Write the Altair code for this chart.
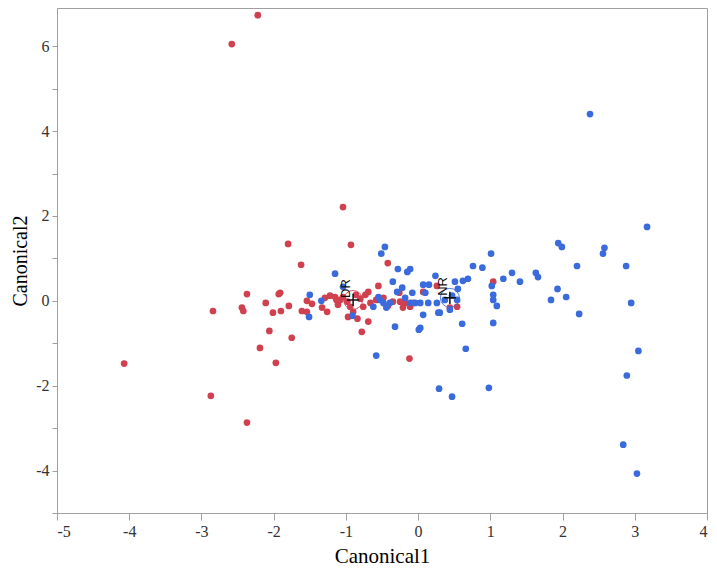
import altair as alt
import pandas as pd

# ---- data ----
red_x = [-2.22, -2.58, -1.04, -1.80, -0.93, -1.62, -0.42, -2.37, -1.93, -2.11,
         -2.84, -2.44, -2.42, -2.01, -1.90, -1.79, -2.06, -1.75, -2.19, -1.97,
         -4.07, -2.87, -2.37, -0.12, -0.78, 1.04, -1.61, -1.54, -1.47, -1.54,
         -1.33, -1.26, -1.29, -1.22, -1.15, -1.08, -1.04, -0.98, -0.94, -1.11,
         -0.97, -0.84, -0.90, -0.69, -0.55, -0.80, -0.73, -0.69, -0.66, -0.76,
         -0.26, -0.35, -0.25, -0.18, -0.11, -0.07, -0.21, 0.07, 0.26, 0.44,
         0.54, -0.48, -0.42, -0.58, -1.91, -1.13, -0.86]
red_y = [6.73, 6.05, 2.21, 1.34, 1.32, 0.85, 0.89, 0.16, 0.16, -0.05,
         -0.24, -0.16, -0.24, -0.28, -0.24, -0.12, -0.71, -0.87, -1.11, -1.46,
         -1.48, -2.24, -2.87, -1.36, -0.73, 0.45, -0.24, 0.00, -0.07, -0.26,
         -0.16, -0.26, 0.07, 0.12, 0.09, 0.02, 0.09, -0.02, -0.14, -0.09,
         -0.38, -0.42, -0.26, -0.49, 0.35, 0.05, 0.14, 0.21, -0.05, -0.14,
         0.19, -0.02, -0.02, -0.05, -0.14, -0.05, -0.16, 0.21, 0.35, -0.16,
         -0.14, 0.07, -0.12, 0.02, 0.19, 0.02, 0.14]

blue_x = [2.38, 3.17, 1.94, 1.99, 2.58, 2.56, 1.01, 0.76, 0.89, 2.20,
          2.88, 1.30, 1.63, 1.66, 1.18, 1.41, 0.51, 0.62, 0.69, 1.02,
          0.55, 1.93, 2.05, 1.84, 1.04, 1.09, 2.95, 2.23, 0.61, 1.04,
          0.44, 0.30, 0.66, 3.05, 2.89, 2.84, 3.03, 0.29, 0.47, 0.98,
          -0.58, 0.01, -0.32, -0.46, -0.51, -1.15, -1.50, -1.51, -1.34, -1.04,
          -0.35, -0.28, -0.15, -0.11, 0.24, -0.22, -0.08, 0.07, 0.15, 0.10,
          0.14, 0.26, 0.07, 0.28, 0.03, -0.11, -0.04, 0.03, -0.53, -0.48,
          -0.39, -0.62, -0.55, -0.29, -0.91, 0.54, 1.04, 0.37, 0.47, -0.18,
          -0.44]
blue_y = [4.40, 1.74, 1.36, 1.27, 1.25, 1.11, 1.11, 0.82, 0.78, 0.82,
          0.82, 0.66, 0.66, 0.56, 0.52, 0.45, 0.45, 0.47, 0.52, 0.35,
          0.28, 0.28, 0.09, 0.02, 0.02, -0.12, -0.05, -0.31, -0.54, -0.52,
          -0.21, -0.28, -1.13, -1.18, -1.76, -3.39, -4.07, -2.07, -2.26, -2.05,
          -1.29, -0.68, -0.61, 1.27, 1.11, 0.64, 0.14, -0.38, 0.00, 0.33,
          0.45, 0.75, 0.68, 0.75, 0.59, 0.31, 0.19, 0.38, 0.38, 0.19,
          -0.05, -0.05, -0.33, -0.28, -0.64, -0.05, -0.05, -0.05, 0.02, -0.05,
          -0.05, -0.14, 0.09, 0.21, -0.35, 0.02, 0.14, 0.02, 0.12, 0.07,
          -0.16]

groups = ["DR", "NR"]
centroid_x = [-0.90, 0.44]
centroid_y = [0.02, 0.07]
group_colors = ["#D1404F", "#3A6BDC"]

x_ticks = list(range(-5, 5))
y_ticks = list(range(-5, 7))

pts = pd.DataFrame({
    "Canonical1": red_x + blue_x,
    "Canonical2": red_y + blue_y,
    "Group": ["DR"] * len(red_x) + ["NR"] * len(blue_x),
})
cen = pd.DataFrame({"Canonical1": centroid_x, "Canonical2": centroid_y, "Group": groups})

FONT = "Liberation Serif"
AX_COLOR = "#A0A0A0"

xscale = alt.Scale(domain=[-5, 4], nice=False, zero=False)
yscale = alt.Scale(domain=[-5, 6.9], nice=False, zero=False)
color = alt.Color("Group:N", scale=alt.Scale(domain=groups, range=group_colors), legend=None)

xaxis = alt.Axis(values=x_ticks, title="Canonical1", grid=False,
                 labelExpr="'' + datum.value", labelFont=FONT, labelFontSize=16,
                 labelColor="#333333", titleFont=FONT, titleFontSize=21,
                 titleFontWeight="normal", titleColor="#000000", titlePadding=6,
                 domainColor=AX_COLOR, tickColor=AX_COLOR, tickSize=7, labelPadding=3)
yaxis = alt.Axis(values=y_ticks, title="Canonical2", grid=False,
                 labelExpr="datum.value % 2 == 0 ? '' + datum.value : ''",
                 labelFont=FONT, labelFontSize=16, labelColor="#333333",
                 titleFont=FONT, titleFontSize=20, titleFontWeight="normal",
                 titleColor="#000000", titlePadding=5,
                 domainColor=AX_COLOR, tickColor=AX_COLOR, tickSize=5, labelPadding=3)

x = alt.X("Canonical1:Q", scale=xscale, axis=xaxis)
y = alt.Y("Canonical2:Q", scale=yscale, axis=yaxis)

points = alt.Chart(pts).mark_circle(size=45, opacity=1).encode(x=x, y=y, color=color)

rings = alt.Chart(cen).mark_point(shape="circle", filled=False, size=360,
                                  strokeWidth=1, opacity=0.85).encode(
    x="Canonical1:Q", y="Canonical2:Q", color=color)

plus = alt.Chart(cen).mark_point(shape="M-1,0H1M0,-1V1", filled=False, size=150,
                                 strokeWidth=1.5, color="#111111", opacity=1).encode(
    x="Canonical1:Q", y="Canonical2:Q")

labels = alt.Chart(cen).mark_text(angle=270, align="left", baseline="bottom", dx=2,
                                  font="Liberation Sans", fontSize=13,
                                  color="#111111").encode(
    x="Canonical1:Q", y="Canonical2:Q", text="Group:N")

chart = alt.layer(points, rings, plus, labels).properties(
    width=650, height=505,
    autosize=alt.AutoSizeParams(type="none"),
    padding={"left": 49, "top": 0, "right": 2, "bottom": 55},
).configure_view(stroke=AX_COLOR, strokeWidth=1)

chart.save("out.html", embed_options={"renderer": "svg", "actions": False})
